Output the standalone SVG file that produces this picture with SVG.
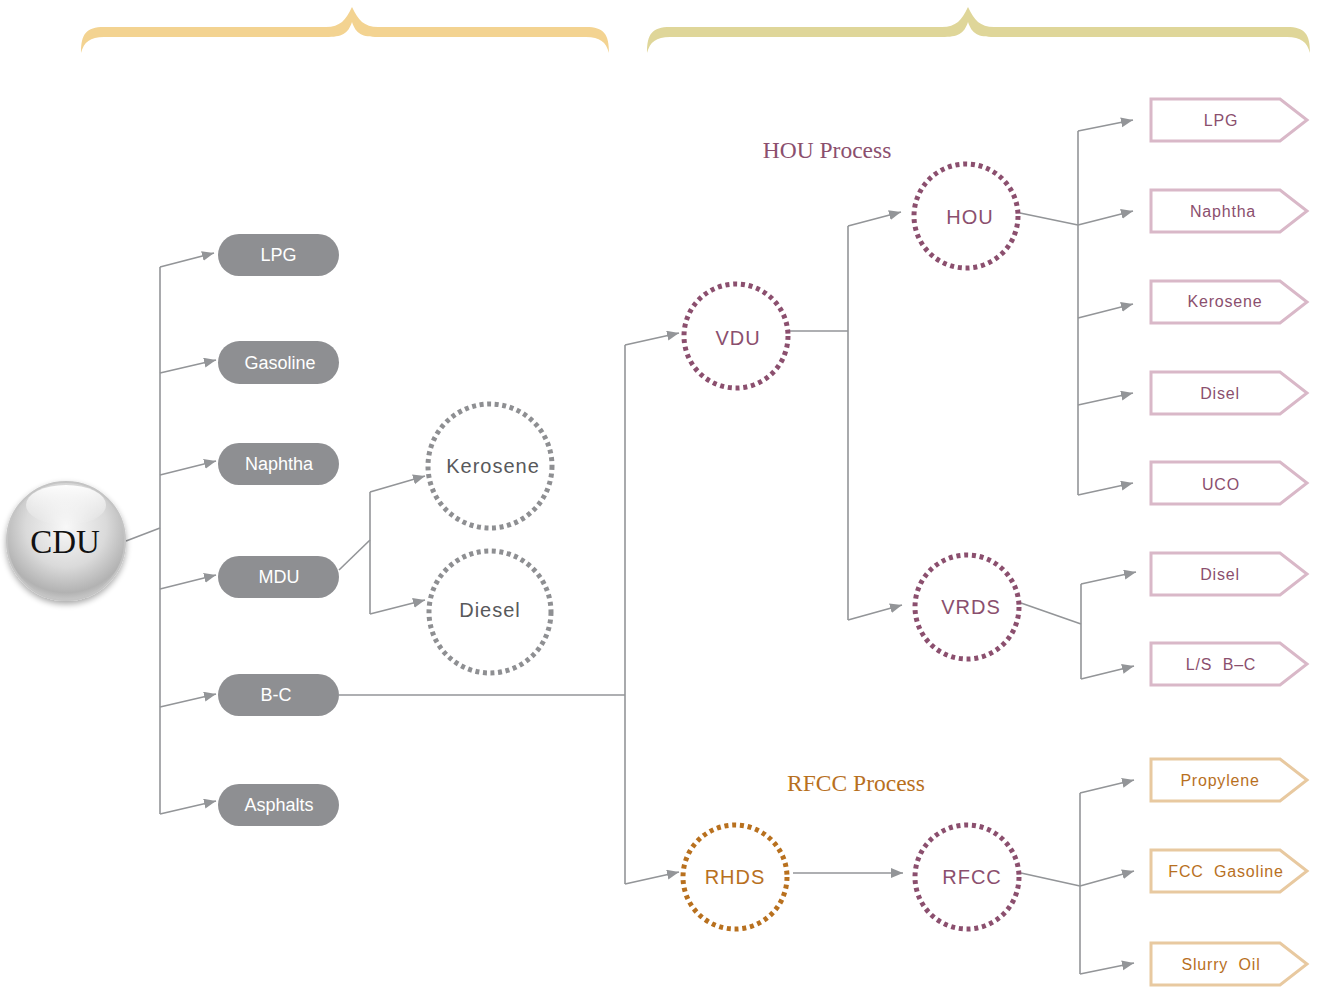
<svg xmlns="http://www.w3.org/2000/svg" width="1317" height="987" viewBox="0 0 1317 987">
<style>
.con{fill:none;stroke:#939598;stroke-width:1.6}
.arr{fill:none;stroke:#939598;stroke-width:1.6;marker-end:url(#ah)}
.pill{fill:#8E8F92}
.pt{font-family:"Liberation Sans",Arial,sans-serif;font-size:18px;fill:#fff;text-anchor:middle}
.dg{fill:none;stroke:#8E8F92;stroke-width:5;stroke-dasharray:4 3.6}
.dp{fill:none;stroke:#8B4F6E;stroke-width:5;stroke-dasharray:4 3.8}
.do{fill:none;stroke:#B8701E;stroke-width:5;stroke-dasharray:4 3.8}
.ct{font-family:"Liberation Sans",Arial,sans-serif;font-size:20px;text-anchor:middle;letter-spacing:1px}
.op{fill:#fff;stroke:#D9B8C8;stroke-width:3}
.oo{fill:#fff;stroke:#E8C9A0;stroke-width:3}
.ot{font-family:"Liberation Sans",Arial,sans-serif;font-size:16px;text-anchor:middle;letter-spacing:0.8px;white-space:pre}
.tp{fill:#8B4F6E}
.to{fill:#B8701E}
.lbl{font-family:"Liberation Serif","Times New Roman",serif;font-size:23.5px;text-anchor:middle}
</style>
<defs>
<marker id="ah" markerUnits="userSpaceOnUse" markerWidth="13" markerHeight="11" refX="12" refY="5" orient="auto">
<path d="M0,0 L12,5 L0,10 z" fill="#939598"/>
</marker>
<radialGradient id="cdug" cx="50%" cy="38%" r="62%">
<stop offset="0" stop-color="#F8F8F8"/>
<stop offset="0.55" stop-color="#DADADA"/>
<stop offset="0.9" stop-color="#B2B2B2"/>
<stop offset="1" stop-color="#C8C8C8"/>
</radialGradient>
<linearGradient id="hl" x1="0" y1="0" x2="0" y2="1">
<stop offset="0" stop-color="#fff" stop-opacity="0.95"/>
<stop offset="1" stop-color="#fff" stop-opacity="0"/>
</linearGradient>
<filter id="sh" x="-30%" y="-30%" width="160%" height="160%">
<feGaussianBlur in="SourceAlpha" stdDeviation="3"/>
<feOffset dx="0" dy="3"/>
<feComponentTransfer><feFuncA type="linear" slope="0.35"/></feComponentTransfer>
<feMerge><feMergeNode/><feMergeNode in="SourceGraphic"/></feMerge>
</filter>
</defs>
<rect width="1317" height="987" fill="#fff"/>

<g id="braces">
<path d="M81,53 C81,34 86,27 104,27 L326,27 C340,27 346,20 352,7 C358,20 364,27 378,27 L586,27 C604,27 609,34 609,53 C606,42 600,37 586,37 L378,37 C362,37 356,34 352,22 C348,34 342,37 326,37 L104,37 C90,37 84,42 81,53 Z" fill="#F3D391"/>
<path d="M647,53 C647,34 652,27 670,27 L942,27 C956,27 962,20 968,7 C974,20 980,27 994,27 L1287,27 C1305,27 1310,34 1310,53 C1307,42 1301,37 1287,37 L994,37 C978,37 972,34 968,22 C964,34 958,37 942,37 L670,37 C656,37 650,42 647,53 Z" fill="#DFD699"/>
</g>

<g id="connectors">
<line class="con" x1="126" y1="541" x2="160" y2="528"/>
<line class="con" x1="160" y1="267" x2="160" y2="814"/>
<line class="arr" x1="160" y1="267" x2="214" y2="253"/>
<line class="arr" x1="160" y1="373" x2="216" y2="360"/>
<line class="arr" x1="160" y1="475" x2="216" y2="461"/>
<line class="arr" x1="160" y1="589" x2="216" y2="575"/>
<line class="arr" x1="160" y1="707" x2="216" y2="694"/>
<line class="arr" x1="160" y1="814" x2="216" y2="801"/>

<line class="con" x1="339" y1="570" x2="370" y2="540"/>
<line class="con" x1="370" y1="492" x2="370" y2="614"/>
<line class="arr" x1="370" y1="492" x2="425" y2="476"/>
<line class="arr" x1="370" y1="614" x2="425" y2="600"/>

<line class="con" x1="339" y1="695" x2="625" y2="695"/>
<line class="con" x1="625" y1="345" x2="625" y2="884"/>
<line class="arr" x1="625" y1="345" x2="679" y2="333"/>
<line class="arr" x1="625" y1="884" x2="679" y2="872"/>

<line class="con" x1="790" y1="331" x2="848" y2="331"/>
<line class="con" x1="848" y1="226" x2="848" y2="620"/>
<line class="arr" x1="848" y1="226" x2="901" y2="212"/>
<line class="arr" x1="848" y1="620" x2="902" y2="605"/>

<line class="con" x1="1020" y1="213" x2="1078" y2="225"/>
<line class="con" x1="1078" y1="131" x2="1078" y2="495"/>
<line class="arr" x1="1078" y1="131" x2="1133" y2="120"/>
<line class="arr" x1="1078" y1="225" x2="1133" y2="211"/>
<line class="arr" x1="1078" y1="318" x2="1133" y2="304"/>
<line class="arr" x1="1078" y1="405" x2="1133" y2="393"/>
<line class="arr" x1="1078" y1="495" x2="1133" y2="483"/>

<line class="con" x1="1021" y1="603" x2="1081" y2="624"/>
<line class="con" x1="1081" y1="584" x2="1081" y2="679"/>
<line class="arr" x1="1081" y1="584" x2="1136" y2="572"/>
<line class="arr" x1="1081" y1="679" x2="1134" y2="666"/>

<line class="arr" x1="793" y1="873" x2="903" y2="873"/>

<line class="con" x1="1021" y1="873" x2="1080" y2="886"/>
<line class="con" x1="1080" y1="793" x2="1080" y2="974"/>
<line class="arr" x1="1080" y1="793" x2="1134" y2="780"/>
<line class="arr" x1="1080" y1="886" x2="1134" y2="871"/>
<line class="arr" x1="1080" y1="974" x2="1134" y2="963"/>
</g>

<g id="cdu">
<circle cx="66" cy="541" r="59" fill="url(#cdug)" stroke="#C4C4C4" stroke-width="2" filter="url(#sh)"/>
<ellipse cx="66" cy="505" rx="40" ry="20" fill="url(#hl)"/>
<text x="65" y="553" font-family="'Liberation Serif','Times New Roman',serif" font-size="33" fill="#111" text-anchor="middle">CDU</text>
</g>

<g id="pill-lpg"><rect class="pill" x="218" y="234" width="121" height="42" rx="21"/><text class="pt" x="278.5" y="261">LPG</text></g>
<g id="pill-gasoline"><rect class="pill" x="218" y="341" width="121" height="43" rx="21.5"/><text class="pt" x="280" y="368.5">Gasoline</text></g>
<g id="pill-naphtha"><rect class="pill" x="218" y="443" width="121" height="42" rx="21"/><text class="pt" x="279" y="470">Naphtha</text></g>
<g id="pill-mdu"><rect class="pill" x="218" y="556" width="121" height="42" rx="21"/><text class="pt" x="279" y="583">MDU</text></g>
<g id="pill-bc"><rect class="pill" x="218" y="674" width="121" height="42" rx="21"/><text class="pt" x="276" y="701">B-C</text></g>
<g id="pill-asphalts"><rect class="pill" x="218" y="784" width="121" height="42" rx="21"/><text class="pt" x="279" y="811">Asphalts</text></g>

<g id="kerosene"><circle class="dg" cx="490" cy="466" r="62"/><text class="ct" x="493" y="473" fill="#58595B">Kerosene</text></g>
<g id="diesel"><circle class="dg" cx="490" cy="612" r="61"/><text class="ct" x="490" y="617" fill="#58595B">Diesel</text></g>

<g id="vdu"><circle class="dp" cx="736" cy="336" r="52"/><text class="ct tp" x="738" y="345">VDU</text></g>
<g id="hou"><circle class="dp" cx="966" cy="216" r="52"/><text class="ct tp" x="970" y="224">HOU</text></g>
<g id="vrds"><circle class="dp" cx="967" cy="607" r="52"/><text class="ct tp" x="971" y="614">VRDS</text></g>
<g id="rhds"><circle class="do" cx="735" cy="877" r="52"/><text class="ct to" x="735" y="884">RHDS</text></g>
<g id="rfcc"><circle class="dp" cx="967" cy="877" r="52"/><text class="ct tp" x="972" y="884">RFCC</text></g>

<g id="label-hou"><text class="lbl tp" x="827" y="158">HOU Process</text></g>
<g id="label-rfcc"><text class="lbl to" x="856" y="791">RFCC Process</text></g>

<g id="out-lpg"><path class="op" d="M1151,99 H1280 L1307,120 L1280,141 H1151 Z"/><text class="ot tp" x="1221" y="126">LPG</text></g>
<g id="out-naphtha"><path class="op" d="M1151,190 H1280 L1307,211 L1280,232 H1151 Z"/><text class="ot tp" x="1223" y="217">Naphtha</text></g>
<g id="out-kerosene"><path class="op" d="M1151,281 H1280 L1307,302 L1280,323 H1151 Z"/><text class="ot tp" x="1225" y="307">Kerosene</text></g>
<g id="out-disel1"><path class="op" d="M1151,372 H1280 L1307,393 L1280,414 H1151 Z"/><text class="ot tp" x="1220" y="399">Disel</text></g>
<g id="out-uco"><path class="op" d="M1151,462 H1280 L1307,483 L1280,504 H1151 Z"/><text class="ot tp" x="1221" y="490">UCO</text></g>
<g id="out-disel2"><path class="op" d="M1151,553 H1280 L1307,574 L1280,595 H1151 Z"/><text class="ot tp" x="1220" y="580">Disel</text></g>
<g id="out-lsbc"><path class="op" d="M1151,643 H1280 L1307,664 L1280,685 H1151 Z"/><text class="ot tp" x="1221" y="670">L/S  B–C</text></g>
<g id="out-propylene"><path class="oo" d="M1151,759 H1280 L1307,780 L1280,801 H1151 Z"/><text class="ot to" x="1220" y="786">Propylene</text></g>
<g id="out-fccgas"><path class="oo" d="M1151,850 H1280 L1307,871 L1280,892 H1151 Z"/><text class="ot to" x="1226" y="877">FCC  Gasoline</text></g>
<g id="out-slurry"><path class="oo" d="M1151,943 H1280 L1307,964 L1280,985 H1151 Z"/><text class="ot to" x="1221" y="970">Slurry  Oil</text></g>
</svg>
